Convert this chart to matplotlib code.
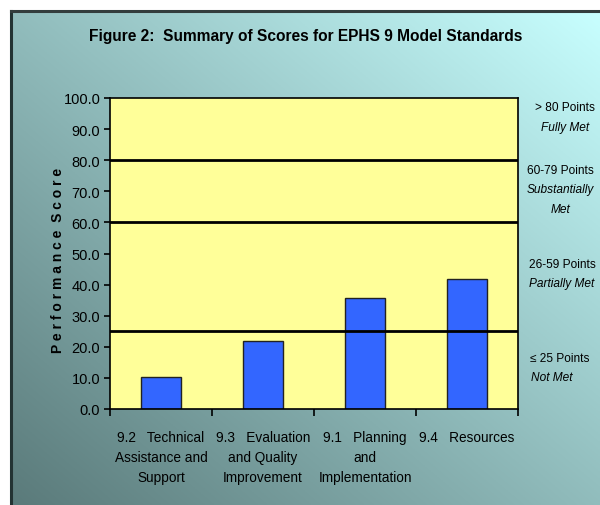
import numpy as np
import matplotlib
matplotlib.use("Agg")
import matplotlib.pyplot as plt
from matplotlib.lines import Line2D

plt.rcParams['font.family'] = ['Liberation Sans Narrow', 'Liberation Sans', 'DejaVu Sans']

categories = [
    "9.2   Technical\nAssistance and\nSupport",
    "9.3   Evaluation\nand Quality\nImprovement",
    "9.1   Planning\nand\nImplementation",
    "9.4   Resources",
]
scores = [10.2, 22.0, 35.6, 41.8]
thresholds = [80, 60, 25]
yticks = np.arange(0, 101, 10)
# (text, italic, x px, y px, ha)
band_labels = [
    ("> 80 Points", False, 565, 108, "center"),
    ("Fully Met", True, 565, 128, "center"),
    ("60-79 Points", False, 560, 171, "center"),
    ("Substantially", True, 560, 190, "center"),
    ("Met", True, 561, 210, "center"),
    ("26-59 Points", False, 562, 265, "center"),
    ("Partially Met", True, 562, 284, "center"),
    ("\u2264 25 Points", False, 530, 359, "left"),
    ("Not Met", True, 531, 378, "left"),
]

W, H = 600, 506
fig = plt.figure(figsize=(W / 100, H / 100), dpi=100)

# gradient background: dark teal bottom-left -> light cyan top-right
bg = fig.add_axes([10 / W, 0, 1 - 10 / W, 1 - 12 / H], zorder=-10)
xx, yy = np.meshgrid(np.linspace(0, 1, 300), np.linspace(0, 1, 300))
t = np.clip(((1 - xx) + yy) / 2.0, 0, 1)[..., None]  # rows go top -> bottom
c_light = np.array([0xc8, 0xff, 0xff]) / 255
c_dark = np.array([0x5a, 0x7a, 0x7a]) / 255
img = c_light * (1 - t) + c_dark * t
bg.imshow(img, aspect="auto", extent=[0, 1, 0, 1], origin="upper")
bg.set_axis_off()

# frame lines top and left
fig.add_artist(Line2D([11 / W, 11 / W], [0, 1 - 12 / H], color="#233333", lw=2.2,
                      transform=fig.transFigure))
fig.add_artist(Line2D([11 / W, 1], [1 - 12 / H, 1 - 12 / H], color="#333d3d", lw=2.2,
                      transform=fig.transFigure))

ax = fig.add_axes([110 / W, 96 / H, 408 / W, 311 / H])
ax.set_facecolor("#ffff99")
x = np.arange(len(categories))
ax.bar(x, scores, width=0.4, color="#3366ff", edgecolor="#222222", linewidth=1.0, zorder=2)
for th in thresholds:
    ax.axhline(th, color="black", lw=2.0, zorder=3)

ax.set_xlim(-0.5, len(categories) - 0.5)
ax.set_ylim(0, 100)
ax.set_yticks(yticks)
ax.set_yticklabels([f"{v:.1f}" for v in yticks], fontsize=10.5)
ax.set_xticks(x)
ax.set_xticklabels(categories, fontsize=9.8, linespacing=1.55, va="top")
ax.tick_params(axis="x", length=0, pad=15)
ax.set_xticks(np.arange(-0.5, len(categories)), minor=True)
ax.tick_params(axis="x", which="minor", length=5, direction="out", width=1.2)
ax.tick_params(axis="y", length=4, direction="out", width=1.2, pad=3)
for s in ax.spines.values():
    s.set_color("black")
    s.set_linewidth(1.2)

ax.set_ylabel("P e r f o r m a n c e  S c o r e", fontsize=10, fontweight="bold")
ax.yaxis.set_label_coords(-0.11, 0.48)

fig.text(306 / W, 1 - 37 / H, "Figure 2:  Summary of Scores for EPHS 9 Model Standards",
         ha="center", va="center", fontsize=11.2, fontweight="bold")

for txt, ital, px, py, ha in band_labels:
    fig.text(px / W, 1 - py / H, txt, ha=ha, va="center", fontsize=8.6,
             style="italic" if ital else "normal")

fig.savefig("out.png", dpi=100)
